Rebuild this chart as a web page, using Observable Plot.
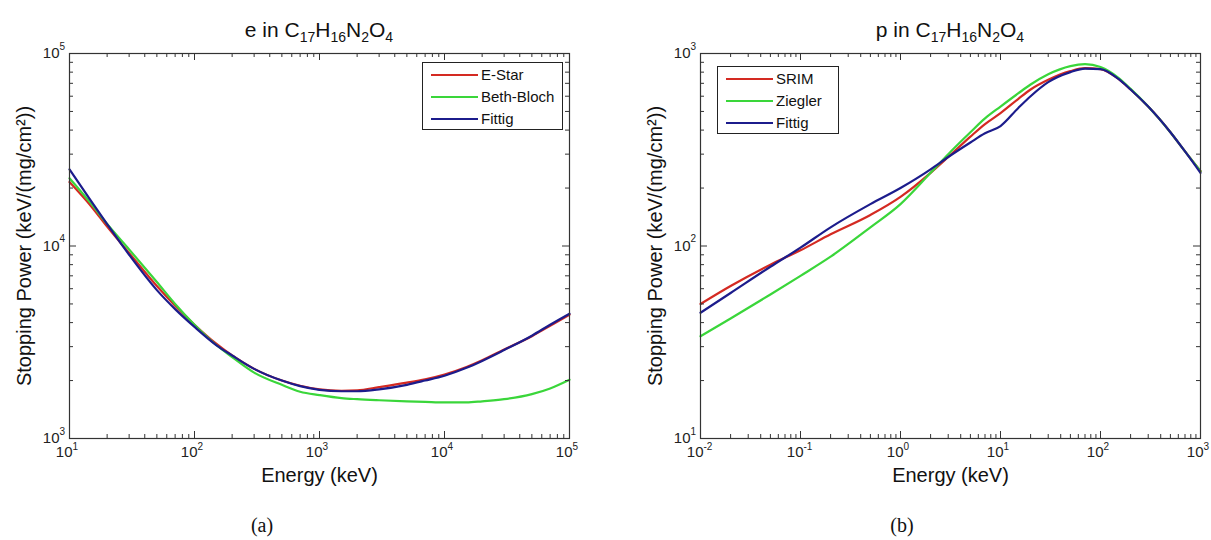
<!DOCTYPE html>
<html><head><meta charset="utf-8">
<script src="https://cdn.jsdelivr.net/npm/d3@7"></script>
<script src="https://cdn.jsdelivr.net/npm/@observablehq/plot@0.6"></script>
<style>
body{margin:0;background:#fff;font-family:"Liberation Sans",Arial,sans-serif;}
#wrap{position:relative;width:1211px;height:540px;overflow:hidden;background:#fff;}
.panel{position:absolute;top:0;}
.title{position:absolute;top:18px;width:400px;text-align:center;font-size:21px;color:#111;white-space:nowrap;}
.title sub{font-size:14px;vertical-align:-5px;}
.cap{position:absolute;top:514px;width:60px;text-align:center;font-family:"Liberation Serif",serif;font-size:20px;color:#111;}
.legend{position:absolute;background:#fff;border:1px solid #222;box-sizing:border-box;}
.row{position:absolute;left:0;height:20px;font-size:15px;color:#111;}
.row .ln{position:absolute;left:8px;top:9px;width:47px;height:0;border-top:2px solid;}
.row .tx{position:absolute;left:58px;top:1px;white-space:nowrap;}
</style></head><body><div id="wrap"></div>
<script>
// ---------- Panel (a): electrons in C17H16N2O4 ----------
const eEnergy    = [10, 15, 20, 30, 50, 70, 100, 150, 200, 300, 500, 700, 1000, 1500, 2000, 3000, 5000, 7000, 10000, 15000, 20000, 30000, 50000, 70000, 100000];
const eStar      = [21500, 16000, 12600, 9200, 6200, 4900, 3900, 3100, 2700, 2300, 2000, 1880, 1800, 1770, 1780, 1850, 1950, 2030, 2150, 2350, 2550, 2900, 3400, 3850, 4400];
const eBethBloch = [22500, 16500, 13000, 9600, 6500, 5000, 3900, 3050, 2650, 2200, 1900, 1750, 1680, 1620, 1600, 1580, 1560, 1550, 1540, 1540, 1560, 1600, 1700, 1820, 2020];
const eFittig    = [25000, 17000, 13000, 9000, 5900, 4700, 3800, 3050, 2700, 2300, 2000, 1870, 1790, 1760, 1760, 1800, 1900, 2000, 2120, 2330, 2530, 2880, 3420, 3900, 4450];
const eNames  = ["E-Star", "Beth-Bloch", "Fittig"];
const eXTicks = [1e1, 1e2, 1e3, 1e4, 1e5];
const eYTicks = [1e3, 1e4, 1e5];

// ---------- Panel (b): protons in C17H16N2O4 ----------
const pEnergy  = [0.01, 0.02, 0.05, 0.1, 0.2, 0.5, 1, 2, 3, 5, 7, 10, 15, 20, 30, 50, 70, 100, 150, 200, 300, 500, 700, 1000];
const pSRIM    = [50, 62, 80, 95, 115, 145, 180, 240, 290, 370, 430, 490, 580, 650, 730, 810, 840, 830, 740, 650, 530, 390, 310, 245];
const pZiegler = [34, 42, 56, 70, 88, 125, 165, 240, 300, 390, 460, 530, 620, 690, 780, 860, 880, 850, 750, 655, 530, 390, 310, 245];
const pFittig  = [45, 57, 78, 98, 125, 165, 200, 250, 290, 345, 385, 420, 520, 600, 710, 800, 835, 830, 740, 650, 530, 390, 310, 240];
const pNames  = ["SRIM", "Ziegler", "Fittig"];
const pXTicks = [1e-2, 1e-1, 1e0, 1e1, 1e2, 1e3];
const pYTicks = [1e1, 1e2, 1e3];

const seriesColors = ["#d42a22", "#3ad63a", "#1c1c8c"];
const xLabel = "Energy (keV)";
const yLabel = "Stopping Power (keV/(mg/cm²))";

function minorTicks(ticks) {
  const out = [];
  for (let i = 0; i < ticks.length - 1; i++)
    for (let k = 2; k <= 9; k++) out.push(k * ticks[i]);
  return out;
}
const expo = d => String(Math.round(Math.log10(d)));

function panel({x, ys, names, xTicks, yTicks, width, ml, mr}) {
  const height = 470, mt = 53, mb = 32;
  const fw = width - ml - mr, fh = height - mt - mb;
  const rows = [];
  names.forEach((n, j) => x.forEach((xv, i) => rows.push({x: xv, y: ys[j][i], s: n})));
  const minX = minorTicks(xTicks), minY = minorTicks(yTicks);
  const ax = "#333";
  const tf = 15;
  return Plot.plot({
    width, height, marginLeft: ml, marginRight: mr, marginTop: mt, marginBottom: mb,
    style: {fontFamily: "Liberation Sans, Arial, sans-serif", background: "#fff", overflow: "visible"},
    x: {type: "log", domain: [xTicks[0], xTicks[xTicks.length - 1]], axis: null},
    y: {type: "log", domain: [yTicks[0], yTicks[yTicks.length - 1]], axis: null},
    color: {domain: names, range: seriesColors},
    marks: [
      Plot.line(rows, {x: "x", y: "y", z: "s", stroke: "s", strokeWidth: 2.2, curve: "monotone-x"}),
      Plot.frame({stroke: ax, strokeWidth: 1.2}),
      Plot.ruleX(xTicks, {x: d => d, insetTop: fh - 7, stroke: ax}),
      Plot.ruleX(xTicks, {x: d => d, insetBottom: fh - 7, stroke: ax}),
      Plot.ruleX(minX, {x: d => d, insetTop: fh - 4, stroke: ax}),
      Plot.ruleX(minX, {x: d => d, insetBottom: fh - 4, stroke: ax}),
      Plot.ruleY(yTicks, {y: d => d, insetRight: fw - 7, stroke: ax}),
      Plot.ruleY(yTicks, {y: d => d, insetLeft: fw - 7, stroke: ax}),
      Plot.ruleY(minY, {y: d => d, insetRight: fw - 4, stroke: ax}),
      Plot.ruleY(minY, {y: d => d, insetLeft: fw - 4, stroke: ax}),
      Plot.text(xTicks, {x: d => d, text: () => "10", frameAnchor: "bottom", dy: 18, dx: 3, textAnchor: "end", fontSize: tf, fill: "#222"}),
      Plot.text(xTicks, {x: d => d, text: expo, frameAnchor: "bottom", dy: 11, dx: 3, textAnchor: "start", fontSize: 10, fill: "#222"}),
      Plot.text(yTicks, {y: d => d, text: () => "10", frameAnchor: "left", dx: -10, textAnchor: "end", fontSize: tf, fill: "#222"}),
      Plot.text(yTicks, {y: d => d, text: expo, frameAnchor: "left", dx: -10, dy: -7, textAnchor: "start", fontSize: 10, fill: "#222"}),
      Plot.text([xLabel], {text: d => d, frameAnchor: "bottom", dy: 43, textAnchor: "middle", fontSize: 20, fill: "#111"}),
      Plot.text([yLabel], {text: d => d, frameAnchor: "left", dx: -45, rotate: -90, textAnchor: "middle", fontSize: 20, fill: "#111"})
    ]
  });
}

const wrap = document.getElementById("wrap");
function place(el, left) { el.classList.add("panel"); el.style.left = left + "px"; wrap.appendChild(el); }

place(panel({x: eEnergy, ys: [eStar, eBethBloch, eFittig], names: eNames, xTicks: eXTicks, yTicks: eYTicks, width: 600, ml: 69, mr: 31}), 0);
place(panel({x: pEnergy, ys: [pSRIM, pZiegler, pFittig], names: pNames, xTicks: pXTicks, yTicks: pYTicks, width: 611, ml: 100, mr: 11}), 600);

function addTitle(html, cx) {
  const d = document.createElement("div"); d.className = "title"; d.innerHTML = html;
  d.style.left = (cx - 200) + "px"; wrap.appendChild(d);
}
addTitle("e in C<sub>17</sub>H<sub>16</sub>N<sub>2</sub>O<sub>4</sub>", 319);
addTitle("p in C<sub>17</sub>H<sub>16</sub>N<sub>2</sub>O<sub>4</sub>", 950);

function addLegend(names, left, top, width) {
  const d = document.createElement("div"); d.className = "legend";
  d.style.left = left + "px"; d.style.top = top + "px"; d.style.width = width + "px"; d.style.height = "68px";
  names.forEach((n, i) => {
    const r = document.createElement("div"); r.className = "row"; r.style.top = (2 + i * 22) + "px";
    r.innerHTML = `<span class="ln" style="border-color:${seriesColors[i]}"></span><span class="tx">${n}</span>`;
    d.appendChild(r);
  });
  wrap.appendChild(d);
}
addLegend(eNames, 422, 62, 141);
addLegend(pNames, 717, 66, 122);

function addCap(t, cx) {
  const d = document.createElement("div"); d.className = "cap"; d.textContent = t;
  d.style.left = (cx - 30) + "px"; wrap.appendChild(d);
}
addCap("(a)", 262);
addCap("(b)", 902);
</script></body></html>
